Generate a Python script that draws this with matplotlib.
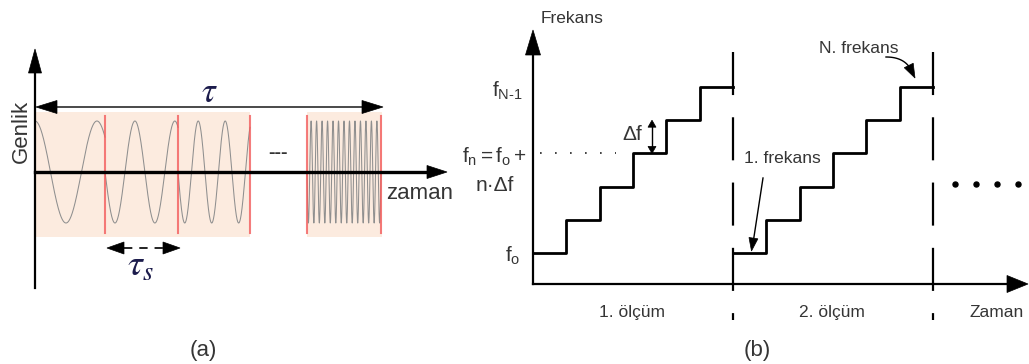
import numpy as np
import matplotlib
matplotlib.use("Agg")
import matplotlib.pyplot as plt
from matplotlib.patches import Polygon, Rectangle

plt.rcParams['font.family'] = ['Liberation Sans', 'DejaVu Sans']
plt.rcParams['lines.scale_dashes'] = False
plt.rcParams['mathtext.fontset'] = 'custom'
plt.rcParams['mathtext.rm'] = 'Liberation Sans'
plt.rcParams['mathtext.it'] = 'Liberation Sans:italic'
plt.rcParams['mathtext.bf'] = 'Liberation Sans:bold'

W, H = 1029, 364
TXT = '#353535'

# ---- (a) stepped-frequency waveform ----
dwell_cycles = [1.13, 1.83, 2.67, 13.5]          # cycles inside each dwell
dwell_phase = [np.pi / 2, np.pi, np.pi, np.pi]   # start phase of each dwell
dwell_windows = [(35, 105), (105, 178), (178, 250), (307, 381)]

# ---- (b) staircase frequency sweep ----
sweep_levels = [0, 1, 2, 3, 4, 5]                # n of each step (f = fo + n*df)
sweep_names = ['1. ölçüm', '2. ölçüm']
level_labels = {0: r'$\mathregular{f_o}$', 5: r'$\mathregular{f_{N\text{-}1}}$'}

fig = plt.figure(figsize=(W / 100, H / 100), dpi=100)
ax = fig.add_axes([0, 0, 1, 1])
ax.set_xlim(0, W)
ax.set_ylim(H, 0)
ax.axis('off')


def head(tip, direction, length, width, color='black', z=5):
    d = np.asarray(direction, float)
    d /= np.hypot(*d)
    p = np.array([-d[1], d[0]])
    tip = np.asarray(tip, float)
    base = tip - d * length
    ax.add_patch(Polygon([tip, base + p * width / 2, base - p * width / 2],
                         closed=True, fc=color, ec=color, lw=0.5, zorder=z))


# ================= panel (a) =================
ax0, ay0 = 35, 172
amp = 51
shade = '#fcebdf'
ax.add_patch(Rectangle((35, 112), 250 - 35, 237 - 112, fc=shade, ec='none', zorder=0))
ax.add_patch(Rectangle((307, 112), 382 - 307, 237 - 112, fc=shade, ec='none', zorder=0))

for (x0, x1), c, ph in zip(dwell_windows, dwell_cycles, dwell_phase):
    t = np.linspace(0, 1, 1200)
    xs = x0 + (x1 - x0) * t
    ys = ay0 - amp * np.sin(2 * np.pi * c * t + ph)
    ax.plot(xs, ys, color='#8f8f8f', lw=0.75, zorder=2)

for xr in [105, 178, 250, 307, 381]:
    ax.plot([xr, xr], [116, 233], color='#f25c5c', lw=1.5, alpha=0.8, zorder=3)

# axes
ax.plot([ax0, 430], [ay0, ay0], color='black', lw=2.4, zorder=4)
head((447, ay0), (1, 0), 20, 13)
ax.plot([ax0, ax0], [288, 70], color='black', lw=1.6, zorder=4)
head((ax0, 49), (0, -1), 24, 13)

# total duration arrow
ax.plot([52, 366], [107, 107], color='#3a3a3a', lw=1.3, zorder=4)
head((ax0 + 1, 107), (-1, 0), 21, 13)
head((383, 107), (1, 0), 21, 13)
ax.text(209, 102, r'$\tau$', math_fontfamily='stix', fontsize=25,
        color='#1c1c4c', ha='center', va='baseline')

# dwell time arrow
ax.plot([124, 164], [248, 248], color='#222222', lw=1.4, dashes=(6, 5), zorder=4)
head((107, 248), (-1, 0), 17, 12)
head((180, 248), (1, 0), 17, 12)
ax.text(140, 276, r'$\tau_s$', math_fontfamily='stix', fontsize=27,
        color='#1c1c4c', ha='center', va='baseline')

ax.text(278, 158, '---', fontsize=14, fontweight='bold', color='#333333',
        ha='center', va='baseline')
ax.text(27, 131, 'Genlik', rotation=90, rotation_mode='anchor', fontsize=16,
        color=TXT, ha='center', va='baseline')
ax.text(420, 199, 'zaman', fontsize=16, color=TXT, ha='center', va='baseline')
ax.text(203, 356, '(a)', fontsize=16, color=TXT, ha='center', va='baseline')

# ================= panel (b) =================
bx0, step_w = 533, 100 / 3
by0, df = 253, 33.2
axis_y = 284


def bx(t):
    return bx0 + step_w * np.asarray(t, float)


def by(n):
    return by0 - df * np.asarray(n, float)


ax.plot([bx0, bx0], [axis_y, 50], color='black', lw=1.6, zorder=4)
head((bx0, 30), (0, -1), 25, 15)
ax.plot([bx0, 1010], [axis_y, axis_y], color='black', lw=1.6, zorder=4)
head((1028, axis_y), (1, 0), 21, 17)

n_steps = len(sweep_levels)
for k, name in enumerate(sweep_names):
    t = np.arange(n_steps + 1) + n_steps * k
    lv = sweep_levels + [sweep_levels[-1]]
    ax.step(bx(t), by(lv), where='post', color='black', lw=2.0, zorder=4)
    ax.text(bx(n_steps * k + n_steps / 2) - 1, 317, name, fontsize=12.5,
            color=TXT, ha='center', va='baseline')
    xs = bx(n_steps * (k + 1))
    ax.plot([xs, xs], [52, 320], color='black', lw=1.6, dashes=(31, 16), zorder=4)

ax.text(997, 317, 'Zaman', fontsize=12.5, color=TXT, ha='center', va='baseline')
ax.text(757, 356, '(b)', fontsize=16, color=TXT, ha='center', va='baseline')
ax.text(541, 23, 'Frekans', fontsize=12.5, color=TXT, ha='left', va='baseline')

# level labels on the frequency axis
ax.text(520, 262, level_labels[0], fontsize=15, color=TXT, ha='right', va='baseline')
ax.text(523, 97, level_labels[5], fontsize=15, color=TXT, ha='right', va='baseline')
ax.text(527, 163, r'$\mathregular{f_n = f_o +}$', fontsize=15, color=TXT,
        ha='right', va='baseline')
ax.text(495, 191, 'n·Δf', fontsize=15, color=TXT, ha='center', va='baseline')

# dotted guide at level n
n_mark = 3
ax.plot([bx0 + 7, bx(2.5)], [by(n_mark)] * 2, color='#333333', lw=1.3,
        dashes=(1.2, 9.6), zorder=3)

# step height arrow
xa = bx(3.57)
ax.plot([xa, xa], [by(4) + 6, by(3) - 6], color='black', lw=1.0, zorder=4)
head((xa, by(4)), (0, -1), 7, 8)
head((xa, by(3)), (0, 1), 7, 8)
ax.text(632, 140, 'Δf', fontsize=15, color=TXT, ha='center', va='baseline')

# first / last frequency callouts
ax.text(782, 163, '1. frekans', fontsize=12.5, color=TXT, ha='center', va='baseline')
ax.plot([763, 753.5], [178, 240], color='black', lw=1.0, zorder=4)
head((751.5, by(0) - 2), (-0.15, 1), 13, 9)

ax.text(859, 53, 'N. frekans', fontsize=12.5, color=TXT, ha='center', va='baseline')
s = np.linspace(0, 1, 60)
p0, p1, p2 = np.array([886, 57]), np.array([903, 57]), np.array([910, 68])
curve = ((1 - s) ** 2)[:, None] * p0 + (2 * s * (1 - s))[:, None] * p1 + (s ** 2)[:, None] * p2
ax.plot(curve[:, 0], curve[:, 1], color='black', lw=1.0, zorder=4)
head((915, 78), (0.5, 1), 14, 10)

for k in range(4):
    ax.plot(955 + 21 * k, 184, marker='o', ms=3.6, color='black', zorder=4)

fig.savefig('out.png', dpi=100)
